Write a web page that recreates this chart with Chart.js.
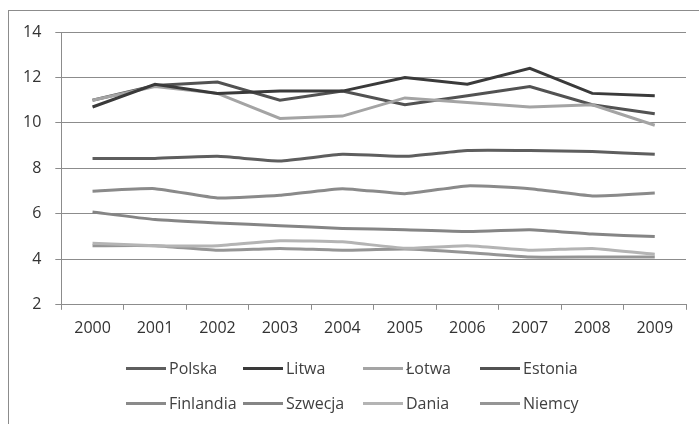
<!DOCTYPE html>
<html><head><meta charset="utf-8">
<script src="https://cdn.jsdelivr.net/npm/chart.js@4"></script>
<style>
html,body{margin:0;padding:0;background:#fff;}
#wrap{position:relative;width:699px;height:424px;overflow:hidden;background:#fff;}
#frame{position:absolute;left:8px;top:10px;width:800px;height:600px;border-left:1px solid #8c8c8c;border-top:1px solid #8c8c8c;}
#c{position:absolute;left:0;top:0;}
#legend{position:absolute;left:0;top:0;width:699px;height:424px;font-family:"Open Sans";font-size:16px;color:#404040;}
.item{position:absolute;display:flex;align-items:center;white-space:nowrap;height:20px;}
.sw{width:40px;height:3px;margin-right:3px;}
</style></head>
<body>
<div id="wrap">
<div id="frame"></div>
<canvas id="c" width="699" height="424"></canvas>
<div id="legend"></div>
</div>
<script>
const years = ['2000','2001','2002','2003','2004','2005','2006','2007','2008','2009'];
const seriesNames = ['Polska','Litwa','Łotwa','Estonia','Finlandia','Szwecja','Dania','Niemcy'];
const polska    = [8.44, 8.44, 8.53, 8.33, 8.62, 8.53, 8.79, 8.79, 8.74, 8.62];
const litwa     = [10.7, 11.7, 11.3, 11.4, 11.4, 12.0, 11.7, 12.4, 11.3, 11.2];
const lotwa     = [11.0, 11.6, 11.3, 10.2, 10.3, 11.1, 10.9, 10.7, 10.8, 9.9];
const estonia   = [11.0, 11.65, 11.8, 11.0, 11.4, 10.8, 11.2, 11.6, 10.8, 10.4];
const finlandia = [7.0, 7.11, 6.7, 6.82, 7.11, 6.89, 7.23, 7.11, 6.79, 6.92];
const szwecja   = [6.08, 5.75, 5.6, 5.48, 5.36, 5.3, 5.22, 5.3, 5.11, 5.0];
const dania     = [4.71, 4.6, 4.6, 4.82, 4.77, 4.49, 4.6, 4.4, 4.48, 4.22];
const niemcy    = [4.6, 4.6, 4.4, 4.48, 4.4, 4.45, 4.3, 4.1, 4.1, 4.1];
const yTicks = [2, 4, 6, 8, 10, 12, 14];

const values = [polska, litwa, lotwa, estonia, finlandia, szwecja, dania, niemcy];
const colors = ['#5e5e5e','#3a3a3a','#a4a4a4','#525252','#8a8a8a','#858585','#b4b4b4','#959595'];
const tensions = [0.15, 0, 0, 0, 0.15, 0.15, 0.15, 0.15];

const datasets = seriesNames.map((n, i) => ({
  label: n,
  data: values[i],
  borderColor: colors[i],
  backgroundColor: colors[i],
  borderWidth: 3,
  pointRadius: 0,
  tension: tensions[i],
  fill: false
}));

const chart = new Chart(document.getElementById('c'), {
  type: 'line',
  data: { labels: years, datasets },
  options: {
    responsive: false,
    animation: false,
    layout: { padding: { left: 9, right: 13, top: 32, bottom: 77 } },
    plugins: { legend: { display: false }, tooltip: { enabled: false } },
    scales: {
      x: {
        offset: true,
        grid: { offset: true, drawOnChartArea: false, drawTicks: true, tickLength: 5, color: '#8c8c8c' },
        border: { display: true, color: '#8c8c8c', width: 1 },
        ticks: { color: '#333', font: { family: 'Open Sans', size: 16 }, padding: 9, maxRotation: 0, autoSkip: false }
      },
      y: {
        min: 2, max: 14,
        afterBuildTicks: (s) => { s.ticks = yTicks.map(v => ({ value: v })); },
        grid: { color: '#8c8c8c', tickLength: 6, drawTicks: true },
        border: { display: true, color: '#8c8c8c', width: 1 },
        ticks: { color: '#333', font: { family: 'Open Sans', size: 16 }, padding: 14 }
      }
    }
  }
});

// HTML legend built from the chart datasets
const legend = document.getElementById('legend');
const cols = [126, 243, 363, 480];
const rows = [358, 393];
chart.data.datasets.forEach((ds, i) => {
  const it = document.createElement('div');
  it.className = 'item';
  it.style.left = cols[i % 4] + 'px';
  it.style.top = rows[Math.floor(i / 4)] + 'px';
  const sw = document.createElement('span');
  sw.className = 'sw';
  sw.style.background = ds.borderColor;
  const tx = document.createElement('span');
  tx.textContent = ds.label;
  it.appendChild(sw); it.appendChild(tx);
  legend.appendChild(it);
});
</script>
</body></html>
